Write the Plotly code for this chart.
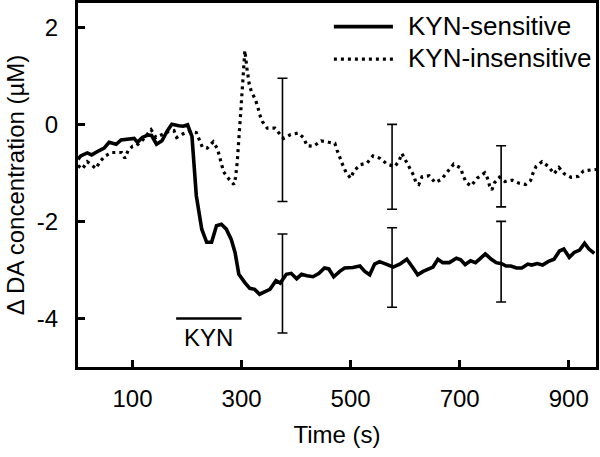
import plotly.graph_objects as go

# ---- data ----
t_sens = [0, 5, 17, 25, 39, 48, 57, 70, 79, 91, 103, 109, 118, 128, 135, 144, 154, 164, 172,
          185, 193, 201, 209, 217, 227, 236, 245, 254, 263, 272, 281, 288, 295, 306, 315, 324,
          333, 342, 352, 363, 371, 382, 391, 401, 410, 420, 431, 442, 452, 460, 469, 480, 489,
          504, 517, 526, 535, 544, 553, 565, 578, 590, 603, 614, 623, 633, 642, 651, 660, 669,
          681, 694, 702, 710, 720, 729, 738, 747, 758, 767, 777, 785, 794, 804, 814, 825, 832,
          842, 852, 862, 873, 883, 891, 901, 910, 920, 929, 937, 947]
v_sens = [-0.72, -0.65, -0.59, -0.63, -0.54, -0.49, -0.37, -0.41, -0.32, -0.30, -0.29, -0.37,
          -0.27, -0.22, -0.23, -0.41, -0.34, -0.13, 0.0, -0.03, -0.04, -0.01, -0.25, -1.47,
          -2.16, -2.43, -2.43, -2.09, -2.06, -2.16, -2.37, -2.64, -3.09, -3.26, -3.38, -3.40,
          -3.50, -3.45, -3.40, -3.22, -3.27, -3.09, -3.07, -3.18, -3.09, -3.12, -3.14, -3.07,
          -2.96, -2.98, -3.14, -3.03, -2.96, -2.95, -2.92, -3.03, -3.10, -2.88, -2.83, -2.88,
          -2.94, -2.88, -2.78, -2.95, -3.10, -3.03, -2.98, -2.94, -2.78, -2.85, -2.85, -2.76,
          -2.79, -2.89, -2.81, -2.85, -2.76, -2.67, -2.78, -2.85, -2.87, -2.92, -2.92, -2.96,
          -2.96, -2.88, -2.90, -2.87, -2.90, -2.83, -2.78, -2.61, -2.57, -2.74, -2.64, -2.59,
          -2.45, -2.57, -2.66]

t_insens = [0, 8, 17, 24, 33, 40, 50, 62, 80, 86, 92, 100, 107, 118, 126, 134, 143, 155, 166,
            176, 181, 192, 204, 217, 223, 228, 237, 248, 256, 260, 263, 267, 277, 286, 289, 292,
            298, 302, 306, 310, 314, 318, 325, 330, 333, 338, 347, 361, 369, 377, 390, 404, 414,
            420, 432, 446, 460, 471, 475, 480, 486, 492, 500, 506, 518, 530, 541, 554, 567, 581,
            589, 594, 601, 608, 616, 620, 625, 631, 644, 655, 667, 678, 689, 702, 706, 712, 721,
            732, 746, 751, 755, 759, 764, 773, 783, 796, 808, 821, 830, 834, 840, 851, 863, 873,
            882, 892, 904, 918, 927, 941, 950]
v_insens = [-0.85, -0.92, -0.77, -0.84, -0.91, -0.77, -0.65, -0.58, -0.58, -0.70, -0.54, -0.45,
            -0.44, -0.33, -0.23, -0.11, -0.27, -0.20, -0.15, -0.13, -0.27, -0.20, -0.14, -0.17,
            -0.34, -0.47, -0.49, -0.36, -0.51, -0.66, -0.82, -0.98, -1.13, -1.24, -1.09, -0.78,
            0.18, 0.90, 1.52, 1.14, 0.83, 0.67, 0.52, 0.35, 0.21, 0.06, -0.08, -0.08, -0.19,
            -0.29, -0.21, -0.18, -0.28, -0.44, -0.45, -0.34, -0.37, -0.39, -0.53, -0.69, -0.85,
            -1.00, -1.11, -0.96, -0.83, -0.80, -0.65, -0.70, -0.82, -0.87, -0.75, -0.60, -0.74,
            -0.90, -1.06, -1.21, -1.24, -1.08, -1.06, -1.20, -1.13, -0.97, -0.82, -0.90, -1.05,
            -1.20, -1.27, -1.11, -1.00, -1.11, -1.27, -1.35, -1.20, -1.09, -1.18, -1.15, -1.21,
            -1.24, -1.16, -1.02, -0.87, -0.77, -0.87, -1.02, -0.89, -1.02, -1.09, -1.07, -0.96,
            -0.94, -0.93]

err_t = [375, 576, 776]
sens_mean = [-3.28, -2.95, -2.83]
sens_err = [1.02, 0.82, 0.83]
insens_mean = [-0.32, -0.875, -1.07]
insens_err = [1.27, 0.875, 0.63]

kyn_period = [180, 300]
kyn_level = -4
kyn_label = "KYN"

series_names = ["KYN-sensitive", "KYN-insensitive"]

x_ticks = [100, 300, 500, 700, 900]
y_ticks = [2, 0, -2, -4]
y_tick_labels = ["2", "0", "-2", "-4"]

FONT = "Liberation Sans, Arial, sans-serif"
SOLID = dict(color="black", width=3.6)
DOTTED = dict(color="black", width=3.2, dash="3px,4px")

fig = go.Figure()

# error bars
for mean, err in ((sens_mean, sens_err), (insens_mean, insens_err)):
    fig.add_trace(go.Scatter(
        x=err_t, y=mean, mode="markers", marker=dict(size=0.1, color="rgba(0,0,0,0)"),
        error_y=dict(type="data", array=err, visible=True, color="black",
                     thickness=1.6, width=5),
        showlegend=False, hoverinfo="skip"))

fig.add_trace(go.Scatter(x=t_sens, y=v_sens, mode="lines", name=series_names[0],
                         line=SOLID, showlegend=False))
fig.add_trace(go.Scatter(x=t_insens, y=v_insens, mode="lines", name=series_names[1],
                         line=DOTTED, showlegend=False))

# KYN application bar
fig.add_trace(go.Scatter(
    x=kyn_period, y=[kyn_level, kyn_level], mode="lines",
    line=dict(color="black", width=2.5), showlegend=False, hoverinfo="skip"))
fig.add_annotation(x=sum(kyn_period) / 2, y=kyn_level, text=kyn_label, showarrow=False,
                   yanchor="top", yshift=-4, font=dict(size=24, color="black", family=FONT))

# legend (drawn in paper coordinates for a long line sample)
for i, (name, style) in enumerate(zip(series_names, (SOLID, DOTTED))):
    yl = 0.935 - i * 0.089
    fig.add_shape(type="line", xref="paper", yref="paper", x0=0.494, x1=0.608,
                  y0=yl, y1=yl, line=style)
    fig.add_annotation(xref="paper", yref="paper", x=0.634, y=yl + 0.003, text=name,
                       showarrow=False, xanchor="left", yanchor="middle",
                       font=dict(size=26, color="black", family=FONT))

axis_common = dict(
    showgrid=False, zeroline=False, showline=True, linecolor="black", linewidth=3,
    mirror=True, ticks="inside", ticklen=7, tickwidth=2.5, tickcolor="black",
    tickfont=dict(size=24, color="black", family=FONT),
)

fig.update_xaxes(range=[0, 950], tickvals=x_ticks, **axis_common,
                 ticklabelstandoff=8,
                 title=dict(text="Time (s)", font=dict(size=24, color="black", family=FONT),
                            standoff=16))
fig.update_yaxes(range=[-5, 2.5], tickvals=y_ticks, ticktext=y_tick_labels, **axis_common,
                 ticklabelstandoff=12,
                 title=dict(text="Δ DA concentration (µM)",
                            font=dict(size=24, color="black", family=FONT), standoff=6))

fig.update_layout(
    width=600, height=457,
    margin=dict(l=78, r=4, t=3, b=90, autoexpand=False),
    plot_bgcolor="white", paper_bgcolor="white",
    font=dict(family=FONT, color="black"),
    showlegend=False,
)

fig.write_html("out.html", config={"displayModeBar": False},
               post_script="document.body.style.margin='0';document.body.style.padding='0';")
